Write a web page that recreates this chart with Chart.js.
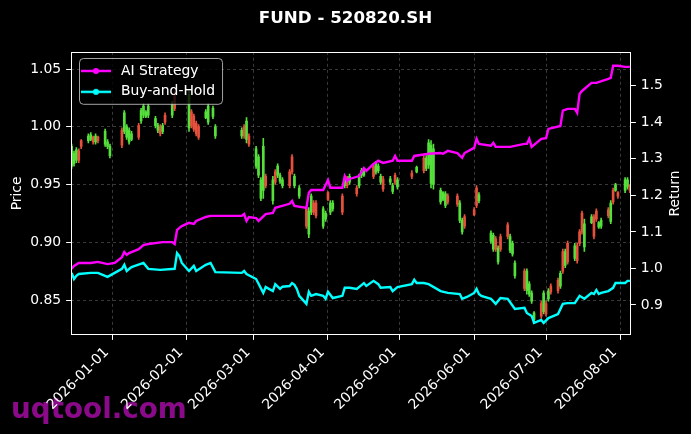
<!DOCTYPE html>
<html>
<head>
<meta charset="utf-8">
<script src="https://cdn.jsdelivr.net/npm/chart.js@4.4.1/dist/chart.umd.min.js"></script>
<style>
  html, body { margin: 0; padding: 0; background: #000; }
  canvas { display: block; }
</style>
</head>
<body>
<canvas id="chart" width="691" height="434"></canvas>
<script>
// ---- data ----
const titleText = 'FUND - 520820.SH';
const watermark = 'uqtool.com';

const candleDates = [
  '2025-12-15','2025-12-16','2025-12-17','2025-12-18','2025-12-19','2025-12-22','2025-12-23','2025-12-24','2025-12-25','2025-12-26',
  '2025-12-29','2025-12-30','2025-12-31','2026-01-05','2026-01-06','2026-01-07','2026-01-08','2026-01-09','2026-01-12','2026-01-13',
  '2026-01-14','2026-01-15','2026-01-16','2026-01-19','2026-01-20','2026-01-21','2026-01-22','2026-01-23','2026-01-26','2026-01-27',
  '2026-02-02','2026-02-03','2026-02-04','2026-02-05','2026-02-06','2026-02-09','2026-02-10','2026-02-12','2026-02-13','2026-02-24',
  '2026-02-25','2026-02-26','2026-02-27','2026-03-02','2026-03-03','2026-03-04','2026-03-05','2026-03-06','2026-03-09','2026-03-10',
  '2026-03-11','2026-03-12','2026-03-13','2026-03-16','2026-03-17','2026-03-18','2026-03-20','2026-03-23','2026-03-24','2026-03-25',
  '2026-03-26','2026-03-27','2026-03-30','2026-03-31','2026-04-01','2026-04-02','2026-04-03','2026-04-07','2026-04-08','2026-04-09',
  '2026-04-10','2026-04-13','2026-04-14','2026-04-15','2026-04-16','2026-04-20','2026-04-21','2026-04-22','2026-04-23','2026-04-24',
  '2026-04-27','2026-04-28','2026-04-29','2026-04-30','2026-05-06','2026-05-08','2026-05-11','2026-05-12','2026-05-13','2026-05-14',
  '2026-05-15','2026-05-18','2026-05-19','2026-05-20','2026-05-21','2026-05-25','2026-05-26','2026-05-27','2026-05-28','2026-06-01',
  '2026-06-02','2026-06-03','2026-06-08','2026-06-09','2026-06-10','2026-06-11','2026-06-12','2026-06-15','2026-06-16','2026-06-17',
  '2026-06-18','2026-06-22','2026-06-23','2026-06-24','2026-06-25','2026-06-26','2026-06-29','2026-06-30','2026-07-01','2026-07-02',
  '2026-07-03','2026-07-06','2026-07-07','2026-07-08','2026-07-09','2026-07-10','2026-07-13','2026-07-14','2026-07-15','2026-07-16',
  '2026-07-17','2026-07-20','2026-07-21','2026-07-22','2026-07-23','2026-07-24','2026-07-27','2026-07-28','2026-07-29','2026-07-30',
  '2026-07-31','2026-08-03','2026-08-04','2026-08-05'
];
const opens = [
  .966,.968,.971,.979,.988,.988,.989,.991,.987,.991, .985,.983,.975,.997,.996,.991,.987,.989,1.001,1.005,
  1.010,1.009,1.010,1.001,.997,1.000,.996,1.010,1.010,1.029, .999,1.013,1.009,1.003,1.000,1.008,1.004,1.009,.992,.992,
  1.000,.989,.992,.966,.958,.938,.945,.957,.936,.961, .958,.953,.949,.961,.974,.949,.940,.929,.907,.926,
  .934,.934,.914,.920,.943,.926,.929,.940,.949,.955, .952,.947,.949,.958,.958,.966,.961,.962,.952,.955,
  .952,.944,.958,.948,.960,.961,.973,.964,.967,.951, .950,.935,.937,.932,.940,.940,.919,.909,.922,.928,
  .947,.936,.901,.894,.903,.883,.905,.915,.893,.890, .871,.875,.858,.855,.849,.833,.847,.840,.847,.851,
  .862,.867,.862,.892,.880,.899,.886,.897,.909,.925, .896,.917,.922,.927,.913,.914,.928,.918,.945,.945,
  .943,.945,.948,.949
];
const highs = [
  .985,.979,.982,.981,.989,.994,.995,.992,.994,.992, .998,.989,.985,.999,1.014,1.002,.999,.996,1.003,1.016,
  1.020,1.014,1.020,1.009,1.003,1.002,1.003,1.012,1.022,1.031, 1.031,1.015,1.011,1.005,1.002,1.015,1.020,1.018,1.002,.999,
  1.002,1.008,.994,.983,.976,.956,.990,.959,.957,.963, .968,.960,.956,.963,.976,.959,.949,.931,.930,.942,
  .936,.936,.931,.927,.944,.936,.936,.942,.957,.957, .959,.949,.959,.964,.963,.968,.970,.968,.959,.957,
  .957,.951,.960,.956,.962,.966,.975,.975,.989,.988, .985,.947,.944,.944,.942,.942,.936,.921,.924,.930,
  .949,.943,.910,.908,.905,.897,.907,.917,.907,.901, .884,.877,.877,.866,.858,.840,.849,.858,.849,.860,
  .864,.869,.875,.894,.894,.901,.899,.899,.911,.927, .920,.924,.924,.929,.918,.921,.930,.936,.947,.951,
  .944,.956,.956,.950
];
const lows = [
  .964,.966,.969,.969,.981,.986,.988,.985,.985,.986, .983,.981,.973,.982,.994,.989,.985,.988,.989,1.003,
  1.008,1.008,1.008,.999,.995,.992,.994,1.002,1.008,1.014, .996,.999,.996,.992,.989,1.007,1.002,1.007,.990,.990,
  .990,.986,.983,.964,.956,.936,.938,.947,.933,.950, .956,.951,.947,.947,.959,.947,.938,.912,.904,.924,
  .924,.921,.912,.918,.936,.924,.927,.924,.947,.947, .950,.940,.947,.956,.957,.955,.959,.960,.950,.944,
  .950,.942,.950,.946,.955,.960,.960,.962,.964,.947, .946,.933,.936,.930,.933,.931,.917,.907,.912,.923,
  .930,.934,.899,.892,.892,.881,.892,.903,.891,.888, .869,.858,.855,.853,.847,.832,.834,.838,.836,.849,
  .855,.856,.860,.873,.878,.881,.884,.882,.897,.907, .892,.916,.903,.918,.912,.912,.921,.916,.933,.944,
  .938,.943,.946,.943
];
const closes = [
  .983,.977,.980,.971,.983,.992,.993,.987,.992,.988, .996,.987,.983,.984,1.012,1.000,.997,.994,.991,1.014,
  1.018,1.013,1.018,1.007,1.001,.994,1.001,1.004,1.020,1.016, 1.028,1.001,.998,.994,.991,1.013,1.018,1.016,1.000,.997,
  .992,1.005,.985,.981,.974,.954,.983,.949,.954,.952, .966,.958,.954,.949,.961,.957,.947,.914,.927,.940,
  .926,.923,.929,.925,.937,.934,.934,.926,.955,.949, .957,.942,.957,.962,.961,.957,.968,.966,.957,.946,
  .955,.949,.952,.954,.957,.965,.962,.973,.986,.984, .981,.945,.943,.942,.935,.933,.934,.919,.914,.924,
  .932,.941,.908,.906,.894,.895,.894,.905,.905,.899, .882,.860,.875,.864,.856,.839,.836,.856,.838,.858,
  .857,.858,.873,.875,.892,.883,.897,.884,.899,.909, .916,.922,.905,.920,.917,.919,.923,.934,.935,.950,
  .940,.954,.954,.945
];

const aiDates = [
  '2025-12-15','2025-12-16','2025-12-18','2025-12-23','2025-12-26','2025-12-30','2026-01-02','2026-01-05','2026-01-06','2026-01-07',
  '2026-01-08','2026-01-12','2026-01-14','2026-01-16','2026-01-22','2026-01-26','2026-01-27','2026-01-28','2026-01-29','2026-01-30',
  '2026-02-02','2026-02-04','2026-02-05','2026-02-09','2026-02-11','2026-02-24','2026-02-25','2026-02-26','2026-02-27','2026-03-02',
  '2026-03-03','2026-03-06','2026-03-09','2026-03-10','2026-03-16','2026-03-17','2026-03-18','2026-03-23','2026-03-24','2026-03-25',
  '2026-03-30','2026-04-01','2026-04-02','2026-04-07','2026-04-08','2026-04-09','2026-04-10','2026-04-14','2026-04-16','2026-04-17',
  '2026-04-20','2026-04-22','2026-04-24','2026-04-28','2026-04-29','2026-04-30','2026-05-06','2026-05-07','2026-05-13','2026-05-18',
  '2026-05-19','2026-05-21','2026-05-25','2026-05-27','2026-05-28','2026-06-01','2026-06-02','2026-06-03','2026-06-08','2026-06-09',
  '2026-06-10','2026-06-16','2026-06-22','2026-06-23','2026-06-24','2026-06-25','2026-06-29','2026-07-01','2026-07-02','2026-07-07',
  '2026-07-08','2026-07-10','2026-07-13','2026-07-14','2026-07-15','2026-07-16','2026-07-20','2026-07-22','2026-07-27','2026-07-28',
  '2026-07-29','2026-07-31','2026-08-03','2026-08-05'
];
const aiReturn = [
  0.999,1.007,1.015,1.015,1.018,1.012,1.015,1.031,1.045,1.037,
  1.042,1.053,1.064,1.067,1.072,1.072,1.067,1.105,1.111,1.116,
  1.125,1.122,1.130,1.141,1.144,1.144,1.149,1.130,1.141,1.138,
  1.130,1.149,1.152,1.166,1.177,1.185,1.171,1.166,1.207,1.215,
  1.215,1.242,1.221,1.221,1.253,1.240,1.245,1.253,1.275,1.267,
  1.286,1.295,1.289,1.295,1.308,1.295,1.295,1.308,1.314,1.316,
  1.314,1.322,1.316,1.303,1.316,1.330,1.355,1.341,1.336,1.344,
  1.333,1.333,1.341,1.341,1.355,1.333,1.355,1.357,1.382,1.390,
  1.432,1.437,1.437,1.426,1.478,1.486,1.508,1.508,1.519,1.522,
  1.555,1.555,1.552,1.552
];

const bhDates = [
  '2025-12-15','2025-12-16','2025-12-17','2025-12-18','2025-12-23','2025-12-26','2025-12-30','2026-01-02','2026-01-05','2026-01-06',
  '2026-01-07','2026-01-09','2026-01-14','2026-01-16','2026-01-21','2026-01-27','2026-01-28','2026-01-29','2026-01-30','2026-02-02',
  '2026-02-04','2026-02-05','2026-02-09','2026-02-11','2026-02-13','2026-02-24','2026-02-25','2026-02-26','2026-03-02','2026-03-05',
  '2026-03-06','2026-03-09','2026-03-10','2026-03-12','2026-03-13','2026-03-16','2026-03-17','2026-03-18','2026-03-19','2026-03-20',
  '2026-03-23','2026-03-24','2026-03-25','2026-03-27','2026-03-30','2026-03-31','2026-04-01','2026-04-03','2026-04-07','2026-04-08',
  '2026-04-10','2026-04-13','2026-04-16','2026-04-17','2026-04-20','2026-04-22','2026-04-23','2026-04-27','2026-04-28','2026-04-30',
  '2026-05-06','2026-05-07','2026-05-08','2026-05-11','2026-05-13','2026-05-18','2026-05-21','2026-05-26','2026-05-27','2026-05-29',
  '2026-06-01','2026-06-02','2026-06-03','2026-06-04','2026-06-08','2026-06-10','2026-06-12','2026-06-15','2026-06-18','2026-06-22',
  '2026-06-23','2026-06-25','2026-06-26','2026-06-29','2026-06-30','2026-07-02','2026-07-06','2026-07-08','2026-07-10','2026-07-13',
  '2026-07-15','2026-07-17','2026-07-20','2026-07-21','2026-07-22','2026-07-23','2026-07-24','2026-07-27','2026-07-29','2026-07-30',
  '2026-08-03','2026-08-04','2026-08-05'
];
const bhReturn = [
  0.988,0.971,0.980,0.985,0.988,0.988,0.977,0.988,0.999,1.010,
  0.993,1.004,1.015,0.999,0.996,0.999,1.042,1.034,1.015,0.993,
  1.007,0.993,1.010,1.015,0.990,0.988,0.993,0.985,0.971,0.933,
  0.949,0.938,0.957,0.944,0.950,0.952,0.960,0.955,0.944,0.925,
  0.903,0.936,0.925,0.930,0.925,0.917,0.936,0.919,0.925,0.947,
  0.947,0.944,0.960,0.952,0.966,0.957,0.947,0.949,0.938,0.949,
  0.957,0.969,0.960,0.960,0.957,0.938,0.933,0.930,0.917,0.922,
  0.933,0.944,0.930,0.925,0.917,0.903,0.919,0.917,0.889,0.892,
  0.878,0.870,0.851,0.859,0.851,0.864,0.875,0.903,0.905,0.905,
  0.925,0.917,0.933,0.930,0.941,0.930,0.933,0.938,0.947,0.960,
  0.960,0.966,0.966
];

const monthTicks = ['2026-01-01','2026-02-01','2026-03-01','2026-04-01','2026-05-01','2026-06-01','2026-07-01','2026-08-01'];
const priceTicks = [0.85, 0.90, 0.95, 1.00, 1.05];
const returnTicks = [0.9, 1.0, 1.1, 1.2, 1.3, 1.4, 1.5];

// axis limits
const xMin = Date.parse('2025-12-14T18:00:00Z');
const xMax = Date.parse('2026-08-05T11:00:00Z');
const priceMin = 0.8197, priceMax = 1.0649;
const returnMin = 0.8178, returnMax = 1.5931;

// ---- helpers ----
const t = s => Date.parse(s);
const UP = '#55e03c', DOWN = '#e6503c';
const FONT = 13.9;
const gridColor = 'rgba(255,255,255,0.32)';

const candleColors = candleDates.map((d, i) => closes[i] >= opens[i] ? UP : DOWN);
const wicks = candleDates.map((d, i) => ({ x: t(d), y: [lows[i], highs[i]] }));
const bodies = candleDates.map((d, i) => ({ x: t(d), y: [opens[i], closes[i]] }));
const aiPoints = aiDates.map((d, i) => ({ x: t(d), y: aiReturn[i] }));
const bhPoints = bhDates.map((d, i) => ({ x: t(d), y: bhReturn[i] }));

function legendIcon(color) {
  const c = document.createElement('canvas');
  c.width = 30; c.height = 10;
  const g = c.getContext('2d');
  g.strokeStyle = color; g.lineWidth = 2.4;
  g.beginPath(); g.moveTo(0, 5); g.lineTo(30, 5); g.stroke();
  g.fillStyle = color;
  g.beginPath(); g.arc(15, 5, 3, 0, Math.PI * 2); g.fill();
  return c;
}
const icons = [legendIcon('#ff00ff'), legendIcon('#00ffff')];

Chart.defaults.font.family = '"DejaVu Sans"';
Chart.defaults.color = '#fff';

// ---- plugins: background + watermark, frame + legend on top, right axis title ----
const backdrop = {
  id: 'backdrop',
  beforeDraw(chart) {
    const { ctx, width, height } = chart;
    ctx.save();
    ctx.fillStyle = '#000';
    ctx.fillRect(0, 0, width, height);
    ctx.font = 'bold 27.8px "DejaVu Sans"';
    ctx.fillStyle = '#8a0a8a';
    ctx.textBaseline = 'alphabetic';
    ctx.fillText(watermark, 11, 418);
    ctx.restore();
  }
};

const overlay = {
  id: 'overlay',
  afterDatasetsDraw(chart) {
    const { ctx, chartArea: a } = chart;
    ctx.save();
    ctx.strokeStyle = '#fff';
    ctx.lineWidth = 1;
    ctx.strokeRect(Math.round(a.left) + 0.5, Math.round(a.top) + 0.5,
      Math.round(a.right - a.left) - 1, Math.round(a.bottom - a.top) - 1);

    // legend frame, then the legend again so it sits above the data
    const lg = chart.legend;
    const hb = lg.legendHitBoxes;
    if (hb && hb.length) {
      const pad = lg.options.labels.padding;
      const x0 = lg.left + pad + 1;
      const y0 = hb[0].top - 6;
      const x1 = lg.left + pad + Math.max(...hb.map(h => h.width)) + 7;
      const y1 = hb[hb.length - 1].top + hb[hb.length - 1].height + 5;
      ctx.beginPath();
      if (ctx.roundRect) ctx.roundRect(x0 + 0.5, y0 + 0.5, x1 - x0, y1 - y0, 4);
      else ctx.rect(x0 + 0.5, y0 + 0.5, x1 - x0, y1 - y0);
      ctx.fillStyle = 'rgba(0,0,0,0.8)';
      ctx.fill();
      ctx.strokeStyle = 'rgba(204,204,204,0.8)';
      ctx.stroke();
      ctx.restore();
      lg.draw();
    } else {
      ctx.restore();
    }
  },
  afterDraw(chart) {
    const { ctx } = chart;
    const s = chart.scales.y1;
    ctx.save();
    ctx.translate(s.right - 16, (chart.chartArea.top + chart.chartArea.bottom) / 2);
    ctx.rotate(-Math.PI / 2);
    ctx.font = FONT + 'px "DejaVu Sans"';
    ctx.fillStyle = '#fff';
    ctx.textAlign = 'center';
    ctx.textBaseline = 'middle';
    ctx.fillText('Return', 0, 0);
    ctx.restore();
  }
};

new Chart(document.getElementById('chart'), {
  type: 'bar',
  data: {
    datasets: [
      { type: 'line', label: 'AI Strategy', data: aiPoints, yAxisID: 'y1',
        borderColor: '#ff00ff', backgroundColor: '#ff00ff', borderWidth: 2.4, pointRadius: 0, tension: 0 },
      { type: 'line', label: 'Buy-and-Hold', data: bhPoints, yAxisID: 'y1',
        borderColor: '#00ffff', backgroundColor: '#00ffff', borderWidth: 2.4, pointRadius: 0, tension: 0 },
      { label: 'body', data: bodies, yAxisID: 'y', backgroundColor: candleColors,
        barThickness: 2, grouped: false, borderWidth: 0 },
      { label: 'wick', data: wicks, yAxisID: 'y', backgroundColor: candleColors,
        barThickness: 1, grouped: false, borderWidth: 0 }
    ]
  },
  options: {
    responsive: false,
    animation: false,
    devicePixelRatio: 1,
    events: [],
    layout: { padding: 0 },
    plugins: {
      title: {
        display: true, text: titleText, color: '#fff',
        font: { size: 16.7, weight: 'bold' },
        padding: { top: 8.4, bottom: 23.4 }
      },
      legend: {
        position: 'chartArea',
        align: 'start',
        // a vertical chartArea legend starts at the canvas top, so the empty title pushes it down into the plot
        title: { display: true, text: '', font: { size: 5 }, padding: { top: 51, bottom: 0 } },
        labels: {
          color: '#fff',
          font: { size: FONT },
          padding: 7,
          usePointStyle: true,
          pointStyleWidth: 36,
          filter: item => item.datasetIndex < 2,
          generateLabels(chart) {
            const items = Chart.defaults.plugins.legend.labels.generateLabels(chart);
            items.forEach(it => {
              if (it.datasetIndex < 2) it.pointStyle = icons[it.datasetIndex];
              it.fontColor = '#fff';
            });
            return items;
          }
        }
      },
      tooltip: { enabled: false }
    },
    scales: {
      x: {
        type: 'linear',
        min: xMin, max: xMax,
        offset: false,
        afterBuildTicks: s => { s.ticks = monthTicks.map(d => ({ value: t(d) })); },
        afterFit: s => { s.height = 99; },
        ticks: {
          color: '#fff', font: { size: FONT },
          minRotation: 45, maxRotation: 45, autoSkip: false,
          padding: 4.5, labelOffset: -5.6,
          callback: v => new Date(v).toISOString().slice(0, 10)
        },
        grid: { color: gridColor, lineWidth: 0.7, tickColor: '#fff', tickLength: 4.9, tickWidth: 1, offset: false },
        border: { display: false, dash: [3, 3] }
      },
      y: {
        position: 'left',
        min: priceMin, max: priceMax, beginAtZero: false,
        afterBuildTicks: s => { s.ticks = priceTicks.map(v => ({ value: v })); },
        afterFit: s => { s.width = 71; },
        ticks: { color: '#fff', font: { size: FONT }, padding: 4.9, callback: v => v.toFixed(2) },
        grid: { color: gridColor, lineWidth: 0.7, tickColor: '#fff', tickLength: 4.9, tickWidth: 1 },
        border: { display: false, dash: [3, 3] },
        title: { display: true, text: 'Price', color: '#fff', font: { size: FONT }, padding: { top: 9, bottom: 0 } }
      },
      y1: {
        position: 'right',
        min: returnMin, max: returnMax, beginAtZero: false,
        afterBuildTicks: s => { s.ticks = returnTicks.map(v => ({ value: v })); },
        afterFit: s => { s.width = 60; },
        ticks: { color: '#fff', font: { size: FONT }, padding: 4.9, callback: v => v.toFixed(1) },
        grid: { drawOnChartArea: false, tickColor: '#fff', tickLength: 4.9, tickWidth: 1 },
        border: { display: false }
      }
    }
  },
  plugins: [backdrop, overlay]
});
</script>
</body>
</html>
